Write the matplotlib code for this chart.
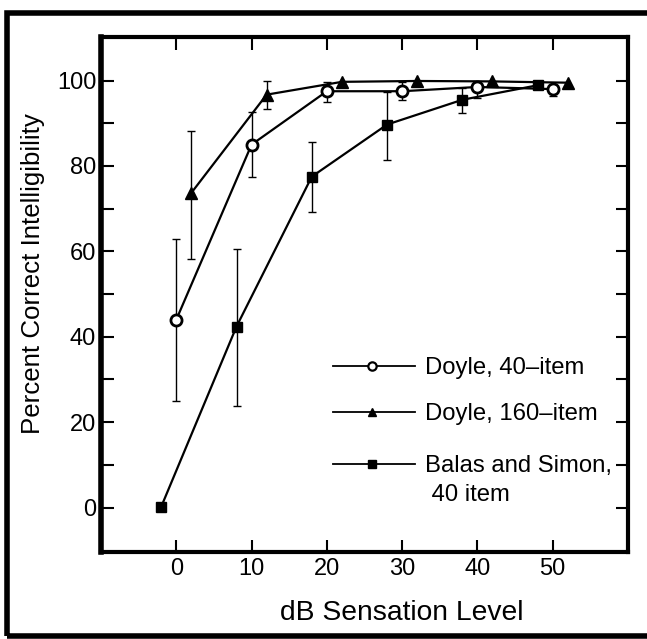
import matplotlib
matplotlib.use("Agg")
import matplotlib.pyplot as plt
from matplotlib.patches import Rectangle

# ---- data ----
doyle40_x = [0, 10, 20, 30, 40, 50]
doyle40_y = [44, 85, 97.5, 97.5, 98.5, 98]
doyle40_lo = [25, 77.5, 95, 95.4, 96, 96.4]
doyle40_hi = [62.8, 92.7, 99.7, 99.7, 100, 99]

doyle160_x = [2, 12, 22, 32, 42, 52]
doyle160_y = [73.7, 96.7, 99.7, 99.9, 99.8, 99.5]
doyle160_lo = [58.2, 93.3, None, None, None, None]
doyle160_hi = [88.3, 100, None, None, None, None]

balas_x = [-2, 8, 18, 28, 38, 48]
balas_y = [0.2, 42.4, 77.5, 89.7, 95.5, 98.9]
balas_lo = [None, 23.8, 69.2, 81.3, 92.3, None]
balas_hi = [None, 60.6, 85.6, 97.3, 98.3, None]

x_ticks = [0, 10, 20, 30, 40, 50]
y_ticks = [0, 20, 40, 60, 80, 100]
y_minor_ticks = [10, 30, 50, 70, 90]
legend_labels = [["Doyle, 40\u2013item"], ["Doyle, 160\u2013item"], ["Balas and Simon,", " 40 item"]]
x_label = "dB Sensation Level"
y_label = "Percent Correct Intelligibility"

plt.rcParams['font.family'] = ['Liberation Sans', 'DejaVu Sans']

W, H = 647, 639
fig = plt.figure(figsize=(W / 100, H / 100), dpi=100)
ax = fig.add_axes([101 / W, 1 - 552 / H, 527 / W, 515 / H])
ax.set_xlim(-10, 60)
ax.set_ylim(-10.4, 110.2)

def errs(x, lo, hi):
    for xi, l, h in zip(x, lo, hi):
        if l is None:
            continue
        ax.errorbar([xi], [(l + h) / 2], yerr=[[(h - l) / 2], [(h - l) / 2]],
                    fmt='none', ecolor='black', elinewidth=1.0, capsize=3, capthick=1.0)

errs(doyle40_x, doyle40_lo, doyle40_hi)
errs(doyle160_x, doyle160_lo, doyle160_hi)
errs(balas_x, balas_lo, balas_hi)

ax.plot(doyle40_x, doyle40_y, color='black', lw=1.6, marker='o', ms=8,
        mfc='white', mec='black', mew=2, zorder=3)
ax.plot(doyle160_x, doyle160_y, color='black', lw=1.6, marker='^', ms=8.5,
        mfc='black', mec='black', zorder=3)
ax.plot(balas_x, balas_y, color='black', lw=1.6, marker='s', ms=7,
        mfc='black', mec='black', zorder=3)

# legend (manual, axes coordinates)
rows = [0.362, 0.272, 0.171]
styles = [dict(marker='o', ms=6, mfc='white', mec='black', mew=1.6),
          dict(marker='^', ms=6, mfc='black', mec='black'),
          dict(marker='s', ms=5.5, mfc='black', mec='black')]
for yy, st, lab in zip(rows, styles, legend_labels):
    ax.plot([0.440, 0.596], [yy, yy], transform=ax.transAxes, color='black', lw=1.3)
    ax.plot([0.514], [yy], transform=ax.transAxes, color='black', **st)
    for i, line in enumerate(lab):
        ax.text(0.615, yy - i * 0.055, line, transform=ax.transAxes, fontsize=17.2,
                va='center_baseline', ha='left')

ax.set_xticks(x_ticks)
ax.set_yticks(y_ticks)
ax.set_yticks(y_minor_ticks, minor=True)
ax.tick_params(which='both', direction='in', length=9, width=1.5, top=True, right=True)
ax.tick_params(axis='x', labelsize=17, pad=4)
ax.tick_params(axis='y', labelsize=17, pad=3.5)
for s in ax.spines.values():
    s.set_linewidth(3)
ax.spines['left'].set_linewidth(4)

ax.set_xlabel(x_label, fontsize=20.3, va='center')
ax.xaxis.set_label_coords(0.571, -0.118)
ax.set_ylabel(y_label, fontsize=18.6, va='center')
ax.yaxis.set_label_coords(-0.129, 0.54)

# outer frame
fig.patches.append(Rectangle((7 / W, 3 / H), 660 / W, 623 / H, transform=fig.transFigure,
                             fill=False, lw=4, ec='black'))

fig.savefig("out.png", dpi=100)
